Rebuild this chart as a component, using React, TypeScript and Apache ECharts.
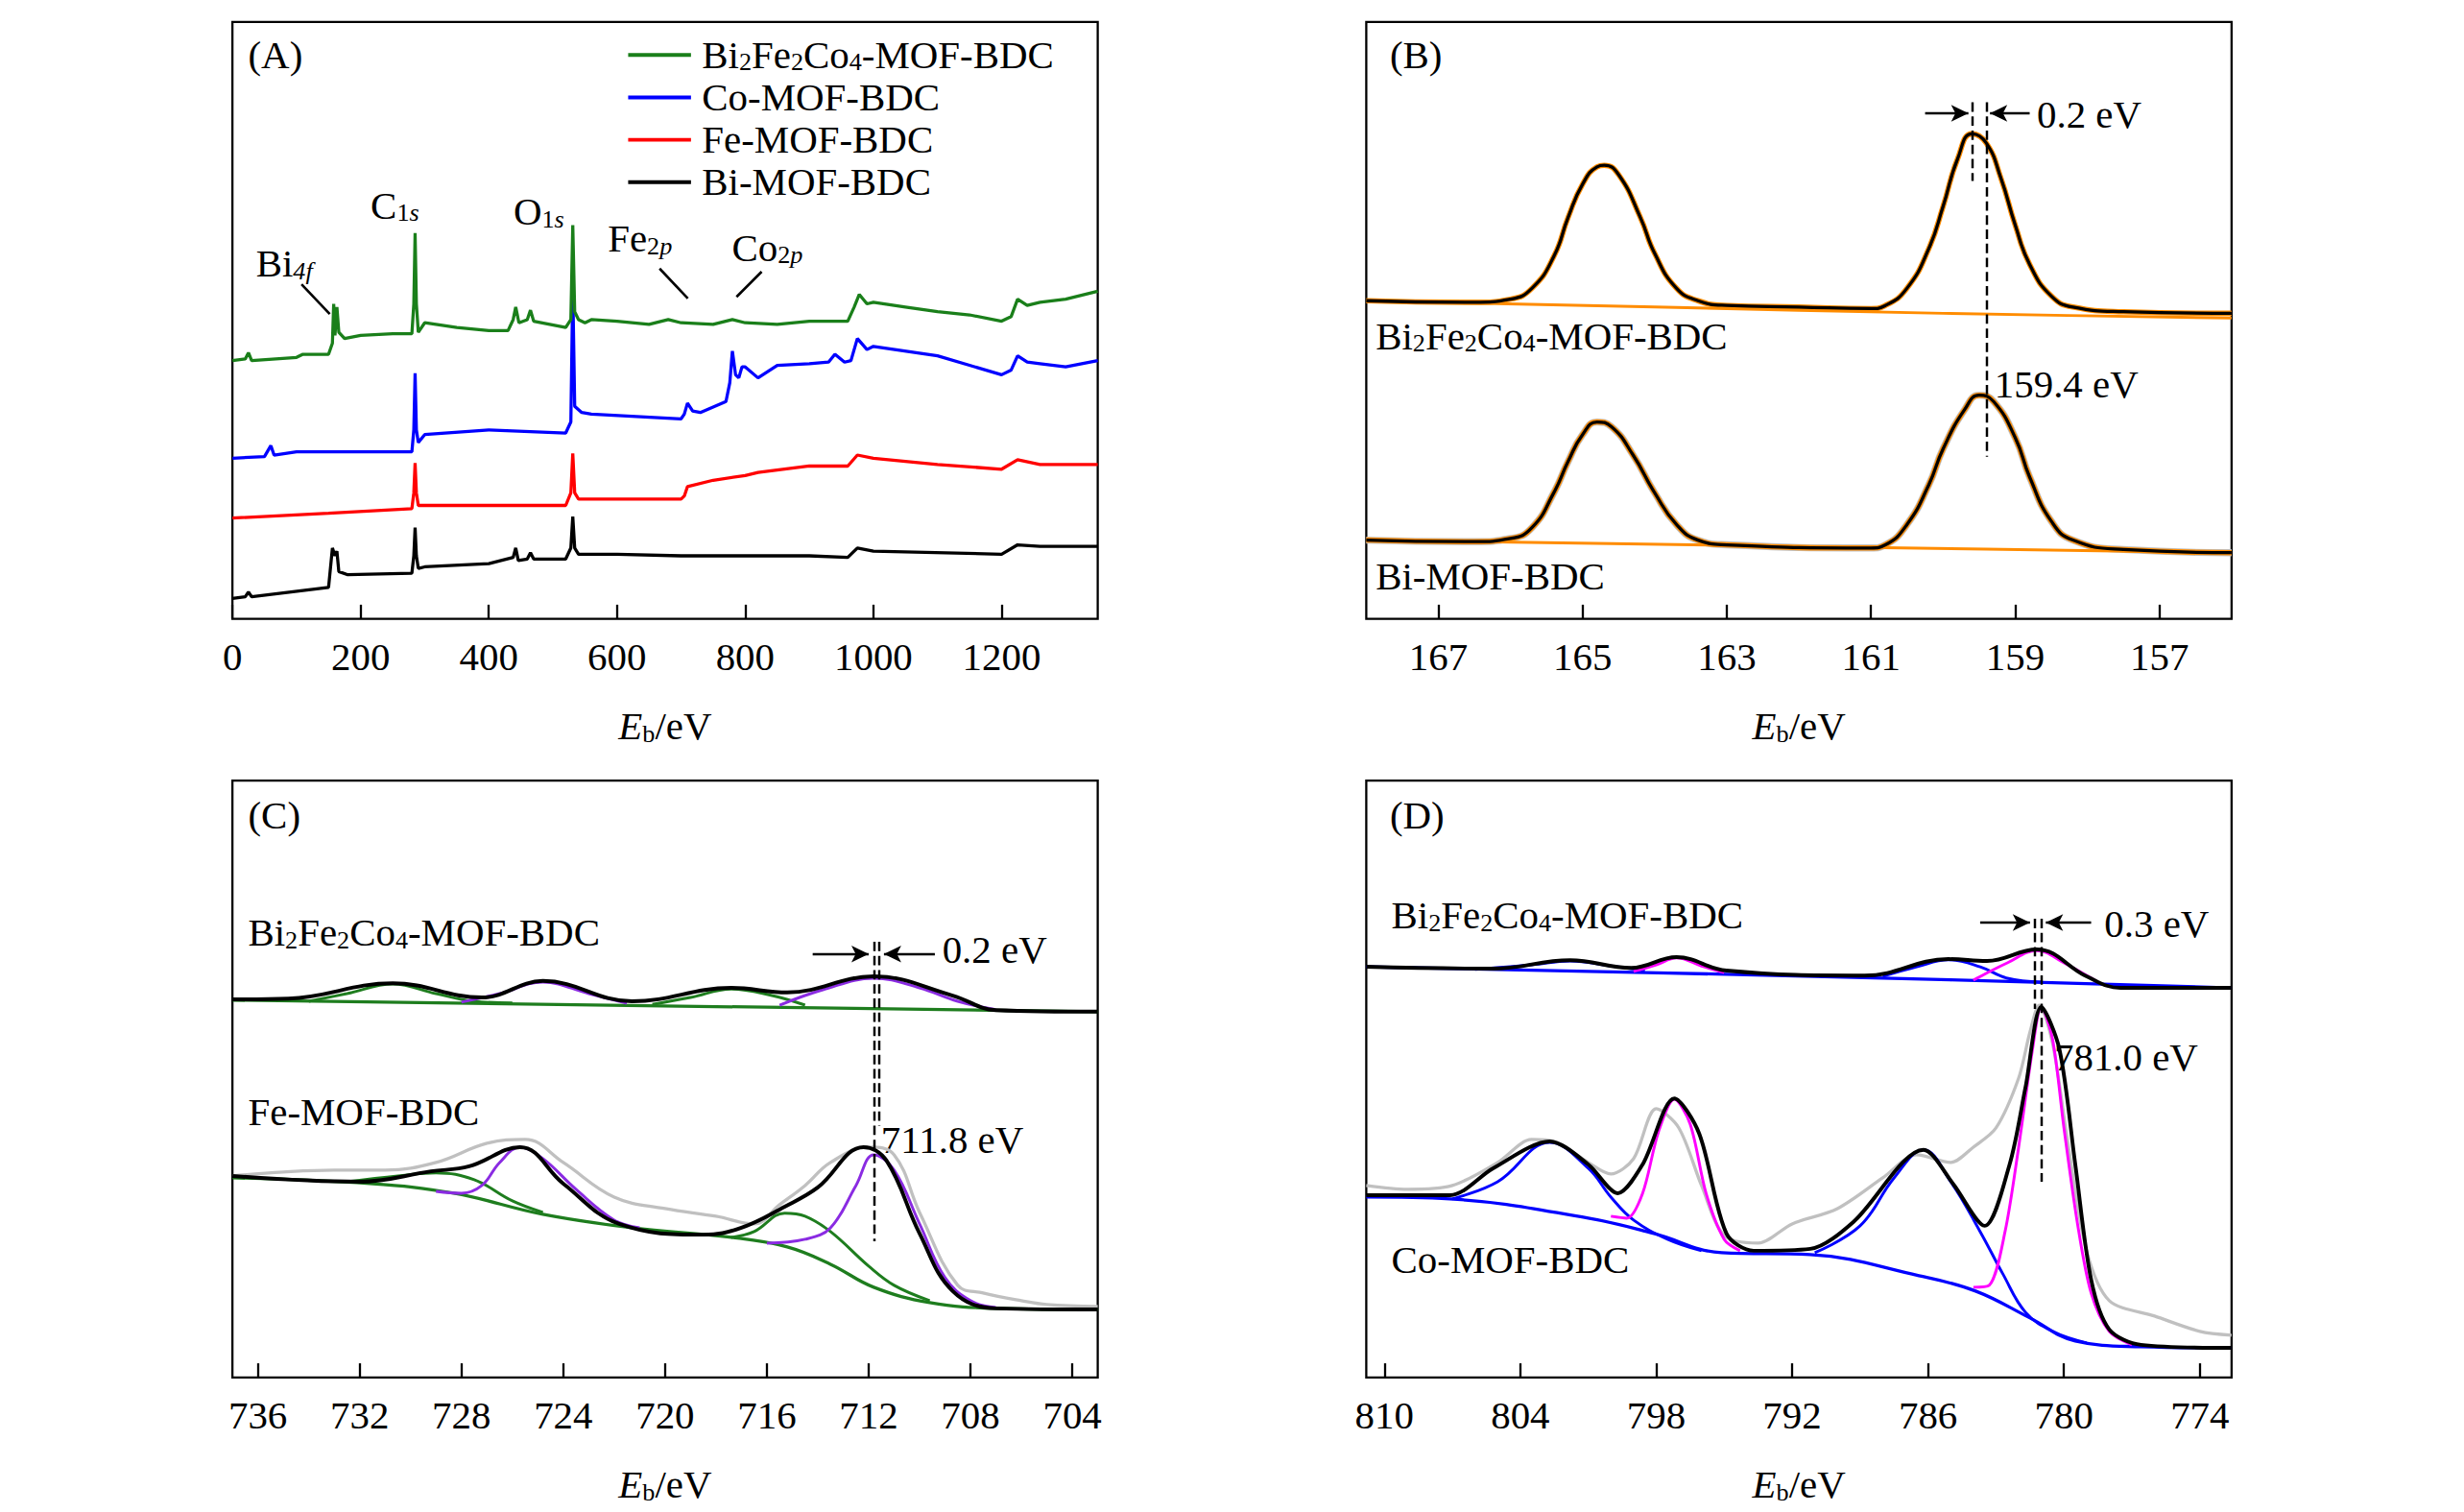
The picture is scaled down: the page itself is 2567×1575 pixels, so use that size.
import { useRef, useEffect } from 'react';
import * as echarts from 'echarts';

// layout was measured on a ~1569px-wide copy; S scales it to the 2567px page
const S = 2567 / 1569;
const FONT = '"Liberation Serif", "DejaVu Serif", serif';
const FS = 25;
const SUB = 16;

// ---- (A) survey spectra: [Eb, intensity] ----
const surveyBiFeCo = [[0,164],[20,165],[25,169],[30,164],[100,166],[110,168],[150,168],[156,175],[158,200],[160,180],[163,198],[166,182],[175,178],[200,180],[250,181],[280,181],[283,200],[285,245],[287,200],[290,182],[300,188],[350,185],[400,183],[430,183],[438,190],[442,198],[447,188],[460,190],[465,196],[470,189],[520,185],[528,190],[531,250],[534,195],[540,190],[550,188],[560,190],[600,189],[650,187],[680,190],[700,188],[750,187],[780,190],[800,188],[850,187],[900,189],[960,189],[970,198],[978,206],[990,200],[1000,201],[1050,198],[1100,195],[1150,193],[1200,189],[1215,192],[1225,203],[1240,199],[1260,201],[1300,203],[1350,208]];
const surveyCo = [[0,102],[50,103],[60,110],[65,104],[100,106],[150,106],[280,106],[283,120],[285,156],[287,120],[290,112],[300,117],[400,120],[520,118],[528,125],[531,210],[534,135],[545,131],[560,130],[700,127],[705,130],[710,137],[718,132],[730,131],[770,138],[776,150],[780,170],[785,155],[790,153],[795,160],[800,160],[820,153],[850,161],[900,162],[930,163],[940,168],[955,163],[965,164],[975,178],[990,171],[1000,173],[1100,167],[1150,161],[1200,155],[1215,158],[1225,167],[1240,163],[1260,162],[1300,160],[1350,164]];
const surveyFe = [[0,64],[150,67],[280,70],[283,80],[285,99],[287,80],[290,72],[300,72],[520,72],[528,80],[531,105],[534,80],[540,76],[700,76],[705,78],[710,84],[750,88],[800,91],[820,93],[900,97],[960,97],[975,104],[1000,102],[1100,98],[1200,95],[1225,101],[1260,98],[1350,98]];
const surveyBi = [[0,13],[20,14],[25,17],[30,14],[150,20],[156,45],[160,40],[163,43],[166,30],[180,28],[280,29],[283,40],[285,58],[287,40],[290,32],[300,33],[400,35],[438,39],[442,45],[446,37],[460,38],[465,42],[470,38],[520,38],[528,45],[531,65],[534,45],[540,41],[600,41],[700,40],[900,40],[960,39],[975,45],[1000,43],[1200,41],[1225,47],[1260,46],[1350,46]];
const surveyTicks = [0, 200, 400, 600, 800, 1000, 1200];

// ---- (B) Bi 4f ----
const biUpperFit = [[168,202],[166.5,201],[166,203],[165.7,210],[165.4,230],[165.2,255],[165,276],[164.8,287],[164.7,288],[164.5,282],[164.2,255],[164,232],[163.7,210],[163.4,202],[163,199],[162,198],[161,197],[160.8,199],[160.5,210],[160.2,235],[160,262],[159.8,292],[159.6,308],[159.4,302],[159.2,280],[159,250],[158.8,225],[158.5,205],[158.2,198],[157.5,195],[156,194]];
const biUpperBg = [[168,202],[164,198],[160,194],[156,191]];
const biLowerFit = [[168,50],[166.5,49],[166,51],[165.7,58],[165.4,80],[165.2,100],[165,117],[164.8,125],[164.6,122],[164.3,104],[164,80],[163.7,60],[163.4,50],[163,47],[161,45],[160.8,47],[160.5,60],[160.2,85],[160,108],[159.7,133],[159.5,142],[159.3,138],[159,115],[158.8,90],[158.5,62],[158.2,50],[157.5,44],[156,42]];
const biLowerBg = [[168,50],[162,46],[156,42]];
const biTicks = [157, 159, 161, 163, 165, 167];

// ---- (C) Fe 2p ----
const feUpperBg = [[737,983],[703,953]];
const feUpperFit = [[737,985],[734.8,987],[730.7,1027],[727.2,990],[724.8,1033],[721.3,980],[717.4,1015],[715.2,1003],[711.8,1045],[708.7,995],[707,957],[703,953]];
const feUpperG1 = [[734,980],[732.5,1000],[730.7,1025],[729,1000],[727.5,980],[726,976]];
const feUpperP1 = [[728,978],[726.5,1000],[724.8,1030],[723,1000],[721.5,975]];
const feUpperG2 = [[720.5,972],[719,990],[717.4,1012],[715.8,995],[714.5,970]];
const feUpperP2 = [[715.5,970],[713.8,1010],[711.8,1040],[710,1015],[708.5,980],[707,958]];
const feLowerRaw = [[737,525],[735,535],[733,540],[731,540],[729,560],[727,610],[725.5,620],[724,560],[722,470],[720,440],[718,420],[716.5,400],[715.5,450],[714.5,500],[713.5,560],[712,600],[711,580],[710,430],[708.5,240],[707.5,220],[706,200],[705,190],[703,185]];
const feLowerBg = [[737,520],[731.6,505],[728.3,480],[724.8,425],[721.3,390],[717.4,365],[715.2,340],[713.5,295],[711.8,235],[709.6,195],[707,180],[703,177]];
const feLowerFit = [[737,525],[732,510],[729.2,537],[727.7,550],[725.7,600],[724,505],[721.8,400],[718.5,372],[717,390],[715.3,445],[714,495],[712.2,600],[711.3,565],[710,375],[708.7,225],[707,180],[703,177]];
const feLowerG1 = [[732.5,510],[730.5,525],[729,533],[727.5,515],[726,460],[724.8,430]];
const feLowerP1 = [[729,485],[728,480],[727.2,500],[726.5,560],[725.7,600],[724.8,570],[723.5,490],[722,410],[721,390]];
const feLowerG2 = [[717.4,365],[716.5,380],[715.3,428],[714.5,420],[713.5,380],[712,290],[711,240],[709.6,200]];
const feLowerP2 = [[716,350],[714.5,360],[713.5,390],[712.5,500],[711.8,580],[711,540],[710,400],[709,260],[708,200],[707,182]];
const feTicks = [704, 708, 712, 716, 720, 724, 728, 732, 736];

// ---- (D) Co 2p ----
const coUpperBg = [[810.8,1070],[791,1045],[772.6,1015]];
const coUpperFit = [[810.8,1070],[805.2,1065],[801.8,1087],[799.1,1067],[797.1,1095],[794.9,1060],[788.8,1047],[785.1,1090],[783.4,1085],[781.2,1115],[779,1045],[777.5,1015],[772.6,1015]];
const coUpperB1 = [[806,1063],[803.5,1075],[801.8,1085],[800,1072],[798.5,1060]];
const coUpperP1 = [[799,1058],[798,1075],[797.1,1093],[796,1072],[795,1055]];
const coUpperB2 = [[788,1045],[786.5,1070],[785.1,1088],[783.7,1070],[782.5,1040],[781,1030]];
const coUpperP2 = [[784,1035],[782.5,1080],[781.2,1112],[780,1080],[778.5,1030]];
const coLowerRaw = [[810.8,500],[809,490],[807,500],[805,560],[803.5,620],[802.5,615],[801,560],[800,530],[799,570],[798,700],[797,650],[796,500],[795,370],[793.5,350],[792,400],[790,440],[788,520],[786.5,580],[785,560],[784,600],[783,650],[782,780],[781.5,900],[781.1,970],[780.5,870],[779.8,600],[779,330],[778,200],[776,160],[774,120],[772.6,110]];
const coLowerBg = [[810.8,470],[807.1,465],[801,415],[798.1,375],[795.1,325],[791.2,320],[786.4,265],[783.9,225],[781.5,155],[779.5,95],[776.6,80],[772.6,77]];
const coLowerFit = [[810.8,475],[807.1,475],[805.2,545],[802.7,615],[801,555],[799.7,480],[798.6,555],[797.2,727],[796.1,635],[794.9,375],[793.7,330],[791.2,335],[789.3,405],[786.2,593],[784.9,505],[783.5,395],[782.4,555],[781.7,755],[781,965],[780.2,855],[779.5,555],[778.8,255],[778,125],[776.6,85],[772.6,77]];
const coLowerB1 = [[807,465],[805,510],[802.7,612],[801,545],[800,470],[799,410],[797.5,360],[796,330]];
const coLowerP1 = [[800,420],[799.3,415],[798.6,480],[797.9,640],[797.2,725],[796.5,660],[795.8,480],[795,360],[794.3,330]];
const coLowerB2 = [[791,325],[789,395],[787.5,520],[786.2,593],[785,510],[783.7,380],[782.7,270],[781.7,170],[780.5,120],[779,90]];
const coLowerP2 = [[784,235],[783.3,240],[782.6,380],[782,600],[781.4,850],[781,965],[780.5,880],[780,650],[779.4,400],[778.8,220],[778,120],[777,85]];
const coTicks = [774, 780, 786, 792, 798, 804, 810];

const GREEN_A = '#1a7f1a';
const GREEN_C = '#1e7d1e';
const PURPLE = '#8a2be2';
const MAGENTA = '#ff00ff';
const BLUE = '#0000ff';
const ORANGE = '#ff8c00';
const GREY = '#c0c0c0';

const sub = { fontSize: SUB * S, fontFamily: FONT, verticalAlign: 'bottom' as const };
const rich = {
  n: { fontSize: FS * S, fontFamily: FONT, verticalAlign: 'bottom' as const, color: '#000' },
  s: { ...sub, color: '#000' },
  si: { ...sub, fontStyle: 'italic' as const, color: '#000' },
};
const BFC = '{n|Bi}{s|2}{n|Fe}{s|2}{n|Co}{s|4}{n|-MOF-BDC}';

function txt(x: number, y: number, text: string) {
  return {
    type: 'text', x: x * S, y: y * S,
    style: { text, rich, fontSize: FS * S, fontFamily: FONT, fill: '#000', verticalAlign: 'middle', align: 'left' },
  };
}
function seg(x1: number, y1: number, x2: number, y2: number, color = '#000', w = 1.6) {
  return { type: 'line', shape: { x1: x1 * S, y1: y1 * S, x2: x2 * S, y2: y2 * S }, style: { stroke: color, lineWidth: w * S } };
}

const grids = [
  { left: 148, top: 14 }, { left: 870, top: 14 },
  { left: 148, top: 497 }, { left: 870, top: 497 },
].map((g) => ({
  left: g.left * S, top: g.top * S, width: 551 * S, height: 380 * S,
  show: true, borderColor: '#000', borderWidth: 1.4 * S, backgroundColor: 'transparent',
}));

function xAx(gi: number, min: number, max: number, ticks: number[], inverse: boolean) {
  return {
    type: 'value', gridIndex: gi, min, max, inverse,
    axisLine: { show: false }, splitLine: { show: false },
    axisTick: { inside: true, length: 9 * S, customValues: ticks, lineStyle: { color: '#000', width: 1.4 * S } },
    axisLabel: { customValues: ticks, formatter: (v: number) => String(v), fontSize: FS * S, fontFamily: FONT, color: '#000', margin: 12 * S },
    name: '{e|E}{b|b}{u|/eV}', nameLocation: 'middle', nameGap: 56 * S,
    nameTextStyle: {
      rich: {
        e: { fontSize: FS * S, fontFamily: FONT, fontStyle: 'italic', color: '#000', verticalAlign: 'bottom' },
        b: { ...sub, color: '#000' },
        u: { fontSize: FS * S, fontFamily: FONT, color: '#000', verticalAlign: 'bottom' },
      },
    },
  };
}
function yAx(gi: number, max: number) {
  return { type: 'value', gridIndex: gi, min: 0, max, show: false };
}

function line(gi: number, data: number[][], color: string, width: number, smooth: boolean | number = 0.4, z = 2): any {
  return {
    type: 'line', xAxisIndex: gi, yAxisIndex: gi, data, smooth, symbol: 'none', z,
    lineStyle: { color, width: width * S }, silent: true,
  };
}
function marks(gi: number, dashed: number[][], arrows: number[][]): any {
  return {
    type: 'line', xAxisIndex: gi, yAxisIndex: gi, data: [], symbol: 'none', z: 5,
    markLine: {
      silent: true, animation: false, label: { show: false },
      data: [
        ...dashed.map(([x, y1, y2]) => [
          { coord: [x, y1], symbol: 'none', lineStyle: { type: 'dashed', color: '#000', width: 1.5 * S } },
          { coord: [x, y2], symbol: 'none' },
        ]),
        ...arrows.map(([x1, x2, y]) => [
          { coord: [x1, y], symbol: 'none', lineStyle: { type: 'solid', color: '#000', width: 1.5 * S } },
          { coord: [x2, y], symbol: 'arrow', symbolSize: [8 * S, 11 * S] },
        ]),
      ],
    },
  };
}

export default function App() {
  const ref = useRef<HTMLDivElement>(null);
  useEffect(() => {
    document.body.style.margin = '0';
    if (!ref.current) return;
    const chart = echarts.init(ref.current, undefined, { renderer: 'svg' });
    chart.setOption({
      animation: false,
      backgroundColor: '#fff',
      grid: grids,
      xAxis: [
        xAx(0, 0, 1350, surveyTicks, false),
        xAx(1, 156, 168, biTicks, true),
        xAx(2, 703, 737, feTicks, true),
        xAx(3, 772.6, 810.8, coTicks, true),
      ],
      yAxis: [yAx(0, 379), yAx(1, 379), yAx(2, 1555), yAx(3, 1555)],
      series: [
        line(0, surveyBi, '#000', 2, false),
        line(0, surveyFe, '#ff0000', 2, false),
        line(0, surveyCo, BLUE, 2, false),
        line(0, surveyBiFeCo, GREEN_A, 2, false),

        line(1, biUpperBg, ORANGE, 1.8, 0.3),
        line(1, biUpperFit, ORANGE, 3.4, 0.5),
        line(1, biUpperFit, '#000', 2, 0.5, 3),
        line(1, biLowerBg, ORANGE, 1.8, 0.3),
        line(1, biLowerFit, GREY, 4.5, 0.5, 1),
        line(1, biLowerFit, ORANGE, 3.4, 0.5),
        line(1, biLowerFit, '#000', 2, 0.5, 3),
        marks(1, [[159.4, 328, 103], [159.6, 328, 278]], [[160.25, 159.65, 321], [158.8, 159.35, 321]]),

        line(2, feLowerRaw, GREY, 2, 0.4, 1),
        line(2, feUpperBg, GREEN_C, 2, 0),
        line(2, feUpperG1, GREEN_C, 1.8), line(2, feUpperG2, GREEN_C, 1.8),
        line(2, feUpperP1, PURPLE, 1.8), line(2, feUpperP2, PURPLE, 1.8),
        line(2, feUpperFit, '#000', 2.4, 0.4, 3),
        line(2, feLowerBg, GREEN_C, 2, 0.4),
        line(2, feLowerG1, GREEN_C, 1.8), line(2, feLowerG2, GREEN_C, 1.8),
        line(2, feLowerP1, PURPLE, 1.8), line(2, feLowerP2, PURPLE, 1.8),
        line(2, feLowerFit, '#000', 2.4, 0.4, 3),
        marks(2, [[711.8, 1135, 355], [711.6, 1135, 655]], [[714.2, 712.0, 1103], [709.4, 711.4, 1103]]),

        line(3, coLowerRaw, GREY, 2, 0.3, 1),
        line(3, coUpperBg, BLUE, 2, 0.4),
        line(3, coUpperB1, BLUE, 1.8), line(3, coUpperB2, BLUE, 1.8),
        line(3, coUpperP1, MAGENTA, 1.8), line(3, coUpperP2, MAGENTA, 1.8),
        line(3, coUpperFit, '#000', 2.4, 0.4, 3),
        line(3, coLowerBg, BLUE, 2, 0.4),
        line(3, coLowerB1, BLUE, 1.8), line(3, coLowerB2, BLUE, 1.8),
        line(3, coLowerP1, MAGENTA, 1.8, 0.3), line(3, coLowerP2, MAGENTA, 1.8, 0.3),
        line(3, coLowerFit, '#000', 2.4, 0.3, 3),
        marks(3, [[781.0, 1195, 510], [781.3, 1195, 960]], [[783.7, 781.5, 1185], [778.8, 780.8, 1185]]),
      ],
      graphic: [
        txt(158, 35, '(A)'),
        seg(400, 35, 440, 35, GREEN_A, 2.4), seg(400, 62, 440, 62, BLUE, 2.4),
        seg(400, 89, 440, 89, '#ff0000', 2.4), seg(400, 116, 440, 116, '#000', 2.4),
        txt(447, 35, BFC), txt(447, 62, 'Co-MOF-BDC'), txt(447, 89, 'Fe-MOF-BDC'), txt(447, 116, 'Bi-MOF-BDC'),
        txt(163, 168, '{n|Bi}{si|4f}'), seg(192, 181, 210, 200),
        txt(236, 131, '{n|C}{s|1}{si|s}'),
        txt(327, 135, '{n|O}{s|1}{si|s}'),
        txt(387, 152, '{n|Fe}{s|2}{si|p}'), seg(420, 171, 438, 190),
        txt(466, 158, '{n|Co}{s|2}{si|p}'), seg(485, 173, 469, 189),

        txt(885, 35, '(B)'),
        txt(1297, 73, '0.2 eV'), txt(1270, 245, '159.4 eV'),
        txt(876, 214, BFC), txt(876, 367, 'Bi-MOF-BDC'),

        txt(158, 519, '(C)'),
        txt(158, 594, BFC), txt(158, 708, 'Fe-MOF-BDC'),
        txt(600, 605, '0.2 eV'), txt(561, 726, '711.8 eV'),

        txt(885, 519, '(D)'),
        txt(886, 583, BFC), txt(886, 802, 'Co-MOF-BDC'),
        txt(1340, 588, '0.3 eV'), txt(1308, 673, '781.0 eV'),
      ],
    });
    return () => chart.dispose();
  }, []);
  return <div ref={ref} style={{ width: 2567, height: 1575 }} />;
}
